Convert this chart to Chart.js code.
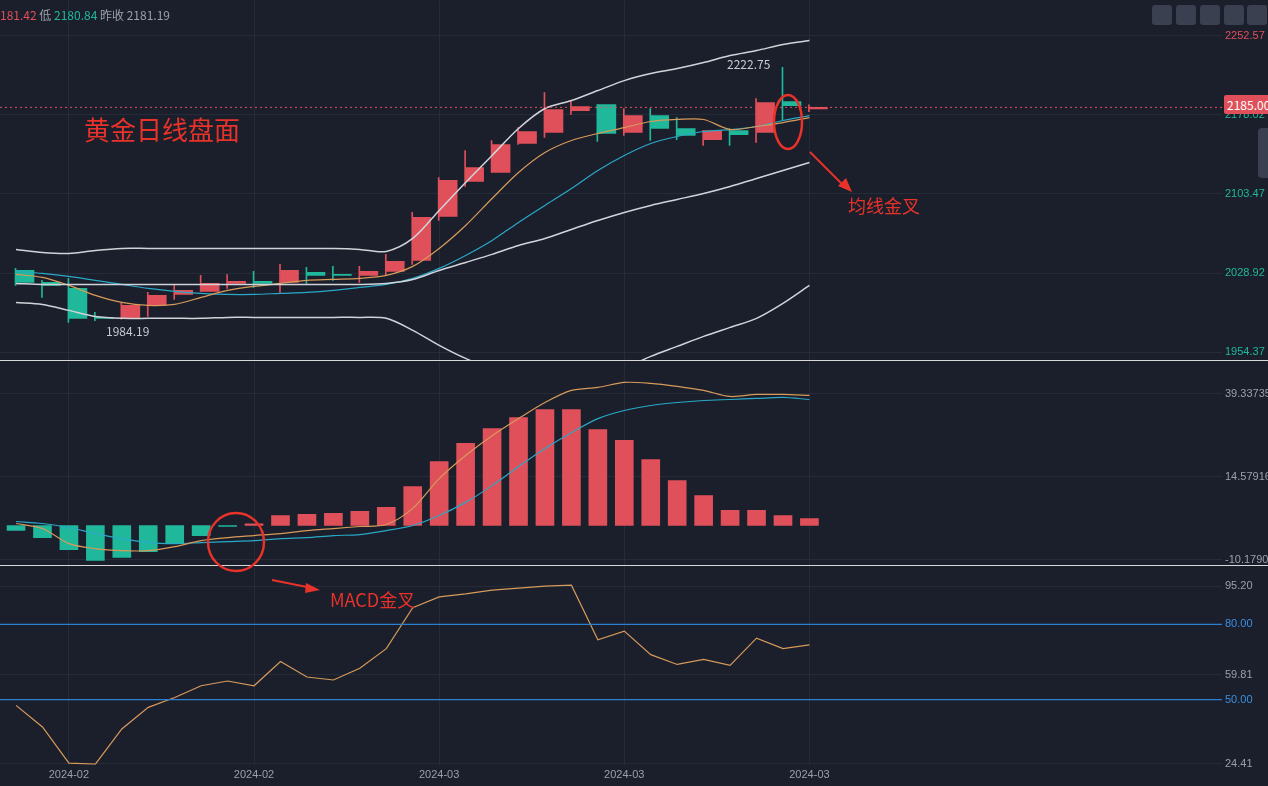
<!DOCTYPE html>
<html><head><meta charset="utf-8">
<script src="https://cdn.jsdelivr.net/npm/chart.js@4.4.1/dist/chart.umd.min.js"></script>
<style>
body{margin:0;background:#1b1f2b;width:1268px;height:786px;overflow:hidden;font-family:"Noto Sans CJK SC","Noto Sans",sans-serif;}
.p{position:absolute;left:0;width:1268px;}
.t{position:absolute;white-space:nowrap;}
</style></head><body>
<div class="p" style="top:-9px;height:379px"><canvas id="c1"></canvas></div>
<div class="p" style="top:352px;height:223px"><canvas id="c2"></canvas></div>
<div class="p" style="top:557px;height:229px"><canvas id="c3"></canvas></div>
<div style="position:absolute;left:0;top:360px;width:1268px;height:1px;background:#d8d8d8"></div>
<div style="position:absolute;left:0;top:565px;width:1268px;height:1px;background:#d8d8d8"></div>
<div class="t" style="left:0;top:6px;font-size:12px;color:#9aa0aa"><span style="color:#e0505a">181.42</span> 低 <span style="color:#1fb89a">2180.84</span> 昨收 2181.19</div>
<div class="t" style="left:84px;top:110px;font-size:26px;color:#e8322a">黄金日线盘面</div>
<div class="t" style="left:848px;top:192px;font-size:18px;color:#e8322a">均线金叉</div>
<div class="t" style="left:330px;top:586px;font-size:18px;color:#e8322a">MACD金叉</div>
<div class="t" style="left:727px;top:55px;font-size:12px;color:#c8ccd2">2222.75</div>
<div class="t" style="left:106px;top:322px;font-size:12px;color:#c8ccd2">1984.19</div>
<div class="t" style="left:1224px;top:95px;font-size:12px;color:#fff;background:#e0505a;padding:1px 3px;border-radius:2px">2185.00</div>
<svg style="position:absolute;left:0;top:0" width="1268" height="786">
<ellipse cx="788" cy="122" rx="14" ry="27" fill="none" stroke="#e8322a" stroke-width="2.5"/>
<line x1="810" y1="152" x2="846" y2="188" stroke="#e8322a" stroke-width="2"/>
<polygon points="852,192 838,186 846,178" fill="#e8322a"/>
<ellipse cx="236" cy="542" rx="28" ry="29" fill="none" stroke="#e8322a" stroke-width="2.5"/>
<line x1="272" y1="580" x2="312" y2="588" stroke="#e8322a" stroke-width="2"/>
<polygon points="320,590 306,583 305,593" fill="#e8322a"/>
<g fill="#3a4050"><rect x="1152" y="5" width="20" height="20" rx="3"/><rect x="1176" y="5" width="20" height="20" rx="3"/><rect x="1200" y="5" width="20" height="20" rx="3"/><rect x="1224" y="5" width="20" height="20" rx="3"/><rect x="1247" y="5" width="20" height="20" rx="3"/></g>
<rect x="1258" y="128" width="14" height="50" rx="4" fill="#3a4050"/>
</svg>
<script>
const dates=["2024-02","2024-02","2024-03","2024-03","2024-03"];
const dateIdx=[2,9,16,23,30];
const open =[2031.5,2020.2,2014.6,1986.4,1986.4,1998.6,2008.9,2011.8,2019.3,2021.2,2020.2,2029.6,2026.8,2026.8,2030.6,2040.9,2082.3,2115.2,2123.7,2151.0,2161.3,2182.0,2187.7,2161.3,2177.3,2165.1,2154.7,2163.2,2161.3,2190.5,2183.5];
const close=[2020.2,2017.4,1986.4,1985.5,1998.6,2008.0,2012.7,2019.3,2021.2,2019.3,2031.5,2026.8,2025.9,2030.6,2040.0,2081.4,2116.2,2128.4,2150.0,2162.3,2183.0,2185.8,2160.4,2177.3,2165.1,2158.5,2163.2,2159.4,2189.5,2186.7,2185.0];
const high =[2033.4,2022.1,2024.0,1992.0,2001.4,2010.8,2018.3,2026.8,2027.7,2030.6,2037.2,2034.3,2035.3,2035.3,2046.6,2086.1,2119.0,2144.4,2153.8,2166.0,2199.0,2191.4,2187.7,2183.9,2183.9,2175.4,2163.2,2165.1,2193.3,2222.75,2187.5];
const low  =[2017.4,2006.1,1982.6,1984.19,1985.5,1988.2,2004.2,2011.8,2014.6,2015.5,2010.8,2019.3,2022.1,2020.2,2026.8,2037.2,2078.5,2110.5,2123.7,2150.0,2156.6,2178.3,2152.9,2158.5,2153.8,2154.7,2149.1,2149.1,2151.9,2172.6,2180.84];
const bollUp =[2051.3,2048.4,2047.5,2050.3,2052.2,2052.2,2052.2,2052.2,2052.2,2052.2,2052.2,2052.2,2052.2,2051.3,2049.4,2061.6,2088.0,2114.3,2139.7,2165.1,2183.9,2191.4,2200.8,2210.2,2216.8,2221.5,2227.2,2233.8,2238.5,2244.1,2247.9];
const bollMid=[2019.3,2018.3,2018.3,2018.3,2018.3,2018.3,2018.3,2018.3,2018.3,2018.3,2018.3,2018.3,2018.3,2018.3,2019.3,2023.0,2031.5,2039.0,2046.6,2055.0,2061.6,2070.1,2078.5,2086.1,2092.7,2098.3,2103.9,2110.5,2118.1,2125.6,2133.1];
const bollLow=[2001.4,1999.5,1993.9,1988.2,1986.4,1986.4,1986.4,1986.4,1987.3,1987.3,1987.3,1987.3,1987.3,1987.3,1986.4,1975.1,1961.0,1948.7,1939.3,1931.8,1927.1,1927.1,1930.9,1939.3,1950.6,1960.0,1969.4,1977.9,1986.4,2000.5,2017.4];
const ma5 =[2027.7,2024.9,2017.4,2008.0,2001.4,1998.6,1999.5,2006.1,2012.7,2016.5,2019.3,2022.1,2023.0,2024.0,2026.8,2035.3,2052.2,2073.8,2099.2,2123.7,2142.5,2153.8,2160.4,2166.0,2171.7,2173.6,2173.6,2164.1,2167.0,2170.7,2175.4];
const ma10=[2030.6,2028.7,2025.9,2022.1,2018.3,2014.6,2011.8,2009.9,2008.9,2008.9,2009.9,2010.8,2012.7,2015.5,2018.3,2024.0,2033.4,2045.6,2059.7,2076.7,2092.7,2108.6,2125.6,2139.7,2151.0,2157.6,2162.3,2164.1,2167.0,2172.6,2177.3];
const macdHist=[-1.5,-3.6,-7.2,-10.4,-9.5,-7.8,-5.4,-3.0,-0.3,0.5,3.0,3.3,3.6,4.2,5.4,11.6,19.1,24.5,28.9,32.2,34.6,34.6,28.6,25.4,19.7,13.4,8.9,4.5,4.5,3.0,2.1];
const macdDif=[0.6,-0.9,-5.4,-6.9,-7.5,-7.5,-6.3,-4.5,-3.6,-3.0,-2.4,-1.5,-0.9,-0.3,0.3,5.1,14.0,20.9,26.8,31.9,36.7,40.3,41.2,42.7,42.4,41.5,40.3,38.5,39.1,39.1,38.8];
const macdDea=[1.2,0.6,-0.6,-2.4,-3.9,-5.1,-5.4,-5.1,-4.8,-4.5,-3.9,-3.6,-3.0,-2.7,-1.5,0,3.0,6.9,11.9,17.6,23.0,27.7,31.9,34.3,35.8,36.7,37.3,37.6,37.9,38.2,37.6];
const rsi=[47.7,39.1,24.7,24.3,38.3,46.9,50.8,55.5,57.4,55.5,65.2,59.0,57.8,62.5,70.3,86.6,90.9,92.1,93.6,94.4,95.2,95.6,73.8,77.3,67.9,64.0,66.0,63.6,74.5,70.3,71.8];
const priceTicks=[2252.57,2178.02,2103.47,2028.92,1954.37];
const macdTicks=[39.33735,14.57916,-10.17903];
const rsiTicks=[95.20,80.00,59.81,50.00,24.41];

const UP='#e0505a',DN='#1fb89a',GRID='#262b38';
const XMIN=-0.606,XMAX=45.6;
const pts=a=>a.map((v,i)=>({x:i,y:v}));
function xScale(show){return {type:'linear',min:XMIN,max:XMAX,offset:false,
  afterBuildTicks:s=>{s.ticks=dateIdx.map(v=>({value:v}));},
  grid:{color:GRID,drawTicks:false,offset:false},border:{display:false},
  ticks:{display:show,color:'#9aa0aa',font:{size:11},padding:4,autoSkip:false,maxRotation:0,callback:(v)=>dates[dateIdx.indexOf(v)]}};}
function yScale(min,max,ticks,fmt,colorFn){return {position:'right',min,max,
  afterBuildTicks:s=>{s.ticks=ticks.map(v=>({value:v}));},
  afterFit:s=>{s.width=46;},
  grid:{color:GRID,drawTicks:false},border:{display:false},
  ticks:{color:colorFn,font:{size:11},padding:3,callback:fmt}};}
const base={responsive:true,maintainAspectRatio:false,animation:false,
  plugins:{legend:{display:false},tooltip:{enabled:false}},layout:{padding:0,autoPadding:false}};
const line=(d,c,w)=>({type:'line',data:pts(d),borderColor:c,borderWidth:w||1,pointRadius:0,tension:0.3});

const lastLine={id:'last',afterDatasetsDraw(ch){const c=ch.ctx,y=ch.scales.y.getPixelForValue(2185.0);
  c.save();c.strokeStyle='#e0505a';c.setLineDash([2,3]);c.beginPath();c.moveTo(0,y);c.lineTo(ch.chartArea.right,y);c.stroke();c.restore();}};
new Chart(document.getElementById('c1'),{type:'bar',data:{datasets:[
  line(bollUp,'#d0d4da',1.5),line(bollMid,'#d0d4da',1.5),line(bollLow,'#d0d4da',1.5),
  line(ma5,'#d79a5a',1.2),line(ma10,'#2aa8c8',1.2),
  {type:'bar',data:low.map((l,i)=>({x:i,y:[l,high[i]]})),backgroundColor:open.map((o,i)=>close[i]>=o?UP:DN),barThickness:1},
  {type:'bar',data:open.map((o,i)=>({x:i,y:[o,Math.abs(close[i]-o)<1?o+1:close[i]]})),backgroundColor:open.map((o,i)=>close[i]>=o?UP:DN),barThickness:18}
]},options:{...base,scales:{x:xScale(false),y:yScale(1946.8,2285.5,priceTicks,v=>v.toFixed(2),c=>c.index===0?'#e0505a':'#1fb89a')}},plugins:[lastLine]});

new Chart(document.getElementById('c2'),{type:'bar',data:{datasets:[
  line(macdDif,'#d79a5a',1.2),line(macdDea,'#2aa8c8',1.2),
  {type:'bar',data:pts(macdHist),backgroundColor:macdHist.map(v=>v>=0?UP:DN),barThickness:18}
]},options:{...base,scales:{x:xScale(false),y:yScale(-11.9,48.9,macdTicks,v=>v.toFixed(5),()=>'#9aa0aa')}}});

new Chart(document.getElementById('c3'),{type:'line',data:{datasets:[
  {type:'line',data:[{x:XMIN,y:80},{x:XMAX,y:80}],borderColor:'#2d7fd0',borderWidth:1.2,pointRadius:0},
  {type:'line',data:[{x:XMIN,y:50},{x:XMAX,y:50}],borderColor:'#2d7fd0',borderWidth:1.2,pointRadius:0},
  {...line(rsi,'#d79a5a',1.2),tension:0}
]},options:{...base,scales:{x:xScale(true),y:yScale(24,103,rsiTicks,v=>v.toFixed(2),c=>(c.tick.value===80||c.tick.value===50)?'#3d8fe0':'#9aa0aa')}}});
</script></body></html>
